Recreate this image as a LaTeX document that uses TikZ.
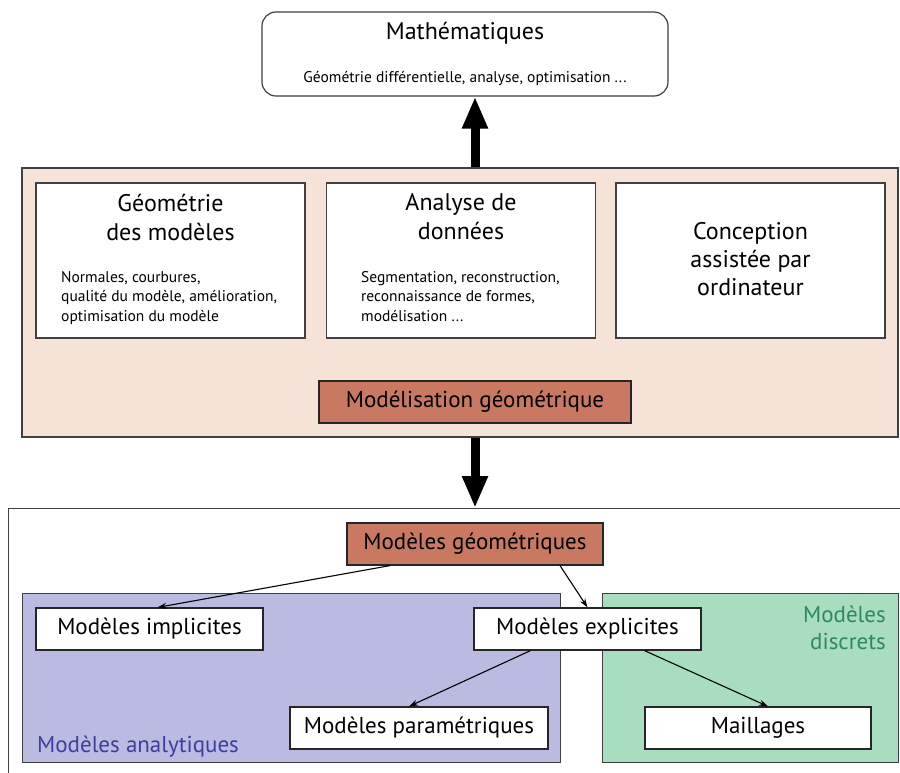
\documentclass[tikz,border=0pt]{standalone}
\usepackage{fontspec}
\setmainfont{PT Sans}
\usetikzlibrary{arrows.meta,positioning}
\definecolor{peach}{HTML}{F6E3D8}
\definecolor{terra}{HTML}{C97862}
\definecolor{lavender}{HTML}{BBBBE2}
\definecolor{mint}{HTML}{A8DDC0}
\definecolor{bluetxt}{HTML}{3E3E9E}
\definecolor{greentxt}{HTML}{2E8A5E}

\begin{document}
\begin{tikzpicture}[
 x=1pt, y=-1pt,
 box/.style={draw=black!85, line width=1.2pt, fill=#1, minimum width=227pt,
 minimum height=42pt, inner sep=0pt, font=\fontsize{23}{27}\selectfont},
 panel/.style={draw=black!75, line width=1.2pt, fill=#1, inner sep=0pt},
 big/.style={font=\fontsize{24}{29}\selectfont, align=center, inner sep=0pt},
 small/.style={font=\fontsize{15.5}{19.5}\selectfont, align=left, inner sep=0pt, anchor=north west},
 bigarr/.style={-{Triangle[width=24pt,length=32pt]}, line width=9pt},
 arr/.style={-{Stealth[length=9pt,width=6pt]}, line width=1.1pt}
]
\clip (0,0) rectangle (900,772);
\fill[white] (0,0) rectangle (900,772);

% Top
\node[panel=white, rounded corners=14pt, minimum width=406pt, minimum height=84pt] (math) at (465,54) {};
\node[big] (mathT) at (465,33) {Mathématiques};
\node[font=\fontsize{15.5}{18}\selectfont, inner sep=0pt] (mathS) at (465,79) {Géométrie différentielle, analyse, optimisation ...};

% Middle panel
\node[panel=peach, minimum width=876pt, minimum height=269pt] (mid) at (460,302.5) {};
\node[panel=white, minimum width=269pt, minimum height=155pt] (geom) at (170.5,260.5) {};
\node[panel=white, minimum width=269pt, minimum height=155pt] (anal) at (461,260.5) {};
\node[panel=white, minimum width=269pt, minimum height=155pt] (cao) at (750.5,260.5) {};

\node[big] (geomT) at (170.5,217) {Géométrie\\des modèles};
\node[small] (geomS) at (61,271) {Normales, courbures,\\qualité du modèle, amélioration,\\optimisation du modèle};
\node[big] (analT) at (461,217) {Analyse de\\données};
\node[small] (analS) at (361,271) {Segmentation, reconstruction,\\reconnaissance de formes,\\modélisation ...};
\node[big, font=\fontsize{24}{28}\selectfont] (caoT) at (750.5,259) {Conception\\assistée par\\ordinateur};

\node[box=terra, minimum width=312pt] (modelis) at (475,402) {Modélisation géométrique};

% Bottom panel
\node[panel=white, anchor=north west, minimum width=920pt, minimum height=300pt] (bot) at (8,508) {};
\draw[bigarr] (mid.south -| modelis) -- (bot.north -| modelis);
\draw[bigarr] (mid.north -| modelis) -- (math.south -| modelis);

\node[panel=lavender, anchor=north west, minimum width=538pt, minimum height=169pt] (analy) at (22,593) {};
\node[panel=mint, anchor=north west, minimum width=296pt, minimum height=169pt] (discr) at (602,593) {};
\node[font=\fontsize{23}{27}\selectfont, text=bluetxt, anchor=west, inner sep=0pt] (analyL) at (37,747) {Modèles analytiques};
\node[font=\fontsize{23}{27}\selectfont, text=greentxt, align=right, anchor=north east, inner sep=0pt] (discrL) at (886,606) {Modèles\\discrets};

\node[box=terra, minimum width=256pt] (mgeo) at (475,544) {Modèles géométriques};
\node[box=white] (impl) at (149.5,629) {Modèles implicites};
\node[box=white] (expl) at (587.5,629) {Modèles explicites};
\node[box=white, minimum width=258pt] (param) at (419,728) {Modèles paramétriques};
\node[box=white, minimum width=226pt] (mail) at (758,728) {Maillages};

\draw[arr] ([xshift=-85pt]mgeo.south) -- ([xshift=8pt]impl.north);
\draw[arr] ([xshift=85pt]mgeo.south) -- (expl.north);
\draw[arr] ([xshift=-57pt]expl.south) -- ([xshift=-10pt]param.north);
\draw[arr] ([xshift=57pt]expl.south) -- ([xshift=10pt]mail.north);
\end{tikzpicture}
\end{document}
